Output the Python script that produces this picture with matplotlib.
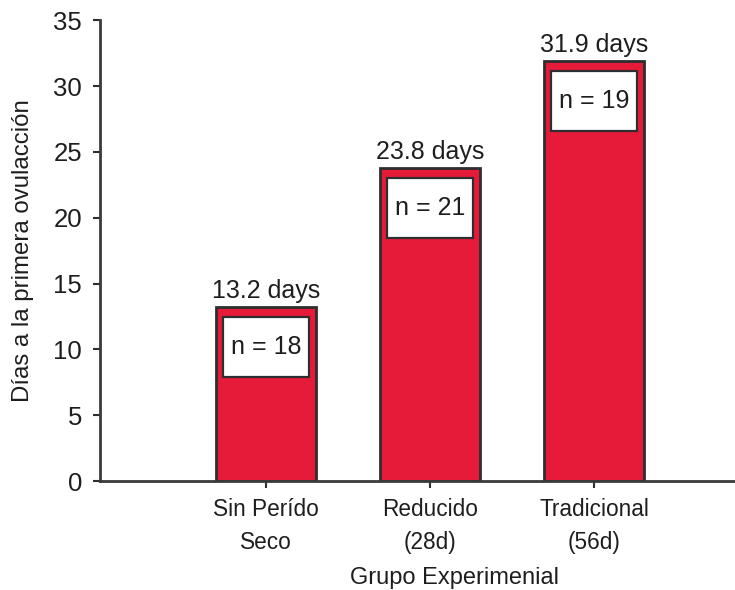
import matplotlib
matplotlib.use("Agg")
import matplotlib.pyplot as plt
from matplotlib.patches import Rectangle

plt.rcParams['font.family'] = ['Liberation Sans', 'DejaVu Sans']

grupos = ['Sin Perído\nSeco', 'Reducido\n(28d)', 'Tradicional\n(56d)']
dias = [13.2, 23.8, 31.9]
n_vacas = [18, 21, 19]
yticks = [0, 5, 10, 15, 20, 25, 30, 35]

red = '#e61b3a'
dark = '#2e2e2e'
txt = '#1e1e1e'

fig = plt.figure(figsize=(7.35, 5.9), dpi=100)
ax = fig.add_axes([0.136, 0.1847, 0.864, 0.781])

x = list(range(len(grupos)))
bw = 0.61
ax.bar(x, dias, width=bw, color=red, edgecolor=dark, linewidth=2, zorder=2)

# white boxes with n inside each bar
box_w = 0.52
box_h = 4.55
gap = 0.76
for xi, v, n in zip(x, dias, n_vacas):
    y0 = v - gap - box_h
    ax.add_patch(Rectangle((xi - box_w / 2, y0), box_w, box_h,
                           facecolor='white', edgecolor=dark, linewidth=1.6, zorder=3))
    ax.text(xi, y0 + box_h / 2, 'n = %d' % n, ha='center', va='center',
            fontsize=18, color=txt, zorder=4)
    ax.annotate('%.1f days' % v, (xi, v), xytext=(0, 3), textcoords='offset points',
                ha='center', va='bottom', fontsize=18, color=txt)

ax.set_xlim(-1.012, 2.86)
ax.set_ylim(0, 35)
ax.set_yticks(yticks)
ax.set_xticks(x)
ax.set_xticklabels(grupos, fontsize=16.3, linespacing=1.55, color=txt)
ax.tick_params(axis='y', labelsize=18.5, length=5, width=1.5, color=dark, pad=8,
               labelcolor=txt)
ax.tick_params(axis='x', length=5, width=1.5, color=dark, pad=7)

for s in ['top', 'right']:
    ax.spines[s].set_visible(False)
for s in ['left', 'bottom']:
    ax.spines[s].set_linewidth(2)
    ax.spines[s].set_color('#3a3a3a')

ax.set_ylabel('Días a la primera ovulacción', fontsize=17.3, labelpad=14, color=txt)
ax.set_xlabel('Grupo Experimenial', fontsize=17, labelpad=10, color=txt, x=0.559)

fig.savefig('out.png', dpi=100)
